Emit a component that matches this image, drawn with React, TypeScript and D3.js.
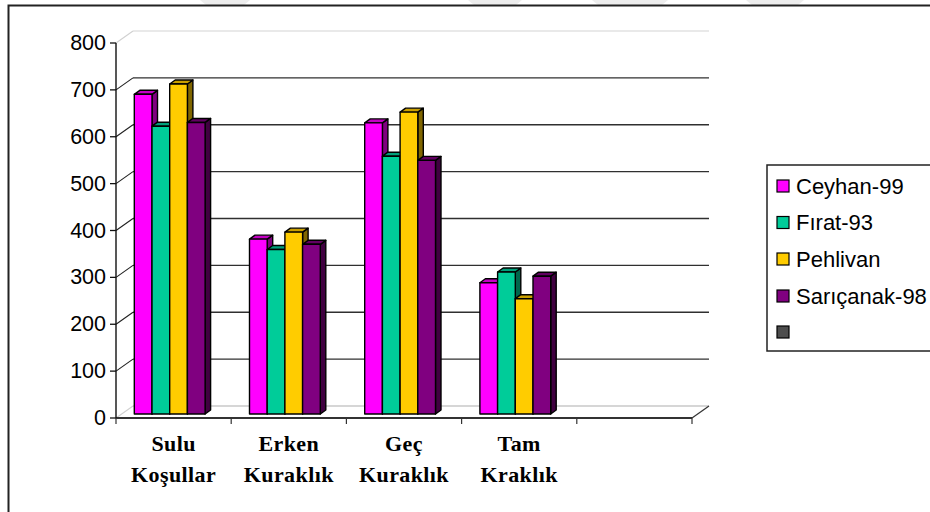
import React from "react";
import * as d3 from "d3";

const categories = ["Sulu Koşullar", "Erken Kuraklık", "Geç Kuraklık", "Tam Kraklık", ""];
const categoryLines = [["Sulu", "Koşullar"], ["Erken", "Kuraklık"], ["Geç", "Kuraklık"], ["Tam", "Kraklık"], []];
const seriesNames = ["Ceyhan-99", "Fırat-93", "Pehlivan", "Sarıçanak-98", ""];
const ceyhan = [682, 373, 621, 280];
const firat = [614, 351, 550, 303];
const pehlivan = [704, 388, 644, 246];
const saricanak = [622, 362, 541, 294];
const yTicks = [0, 100, 200, 300, 400, 500, 600, 700, 800];

const seriesValues = [ceyhan, firat, pehlivan, saricanak];
const faceColors = ["#FF00FF", "#00CC99", "#FFCC00", "#800080", "#4D4D4D"];
const topColors = ["#C400C4", "#00A07A", "#C99F00", "#620062"];
const sideColors = ["#800080", "#00664C", "#806600", "#400040"];

const W = 930;
const H = 512;
// oblique depth of the plot box and of each bar
const DX = 17;
const DY = -12;
const BDX = 5.5;
const BDY = -4;

export default function App() {
  const x = d3.scaleBand<string>().domain(categories).range([116, 692]).padding(0);
  const yFront = d3.scaleLinear().domain([0, 800]).range([418, 43]);
  const yBar = (v: number) => yFront(v) - 4;
  const barW = 17.7;
  const barOffset = 18.3;

  const bars: JSX.Element[] = [];
  categories.forEach((c, ci) => {
    seriesValues.forEach((vals, si) => {
      if (ci >= vals.length) return;
      const v = vals[ci];
      const x0 = (x(c) as number) + barOffset + si * barW;
      const x1 = x0 + barW;
      const yt = yBar(v);
      const yb = yBar(0);
      const top = `${x0},${yt} ${x0 + BDX},${yt + BDY} ${x1 + BDX},${yt + BDY} ${x1},${yt}`;
      const side = `${x1},${yt} ${x1 + BDX},${yt + BDY} ${x1 + BDX},${yb + BDY} ${x1},${yb}`;
      bars.push(
        <g key={`${ci}-${si}`} stroke="#000" strokeWidth={1.4} strokeLinejoin="round">
          <polygon points={side} fill={sideColors[si]} />
          <polygon points={top} fill={topColors[si]} />
          <rect x={x0} y={yt} width={barW} height={yb - yt} fill={faceColors[si]} />
        </g>
      );
    });
  });

  const xLeft = 116;
  const xRight = 692;
  const legendRows = [186, 222.5, 259, 296, 332];

  return (
    <svg
      width={W}
      height={H}
      style={{ position: "absolute", left: 0, top: 0, background: "#fff" }}
      fontFamily="'Liberation Sans', Arial, sans-serif"
    >
      {/* faint watermark shapes along the top edge */}
      <g fill="#EDEDED">
        <polygon points="200,0 250,0 244,5 206,5" />
        <polygon points="468,0 522,0 516,5 474,5" />
        <polygon points="592,0 668,0 662,5 598,5" />
        <polygon points="746,0 804,0 798,5 752,5" />
      </g>

      {/* outer frame */}
      <path d={`M8.5,${H + 2} V5.5 H${W + 2}`} fill="none" stroke="#222" strokeWidth={2} />

      {/* back wall gridlines */}
      {yTicks.map((t) => {
        const yy = yFront(t) + DY;
        const color = t === 0 ? "#C8C8C8" : t === 800 ? "#E2E2E2" : "#303030";
        return (
          <line key={`g${t}`} x1={xLeft + DX} x2={xRight + DX} y1={yy} y2={yy} stroke={color} strokeWidth={1.3} />
        );
      })}

      {/* left wall diagonals */}
      {yTicks.map((t) => {
        const yy = yFront(t);
        const color = t === 0 || t === 800 ? "#D0D0D0" : "#202020";
        return (
          <line key={`d${t}`} x1={xLeft} y1={yy} x2={xLeft + DX} y2={yy + DY} stroke={color} strokeWidth={1.1} />
        );
      })}

      {bars}

      {/* floor front edge and right diagonal */}
      <line x1={xLeft} x2={xRight} y1={yFront(0)} y2={yFront(0)} stroke="#333" strokeWidth={2} />
      <line x1={xRight} y1={yFront(0)} x2={xRight + DX} y2={yFront(0) + DY} stroke="#333" strokeWidth={1.2} />

      {/* category ticks */}
      {categories.map((c, i) => (
        <line key={`ct${i}`} x1={(x(c) as number)} x2={(x(c) as number)} y1={yFront(0)} y2={yFront(0) + 6} stroke="#333" strokeWidth={1.2} />
      ))}
      <line x1={xRight} x2={xRight} y1={yFront(0)} y2={yFront(0) + 6} stroke="#333" strokeWidth={1.2} />

      {/* value axis */}
      <line x1={xLeft} x2={xLeft} y1={yFront(800)} y2={yFront(0)} stroke="#111" strokeWidth={1.4} />
      {yTicks.map((t) => (
        <g key={`yt${t}`}>
          <line x1={xLeft - 6} x2={xLeft} y1={yFront(t)} y2={yFront(t)} stroke="#111" strokeWidth={1.3} />
          <text x={106} y={yFront(t)} textAnchor="end" dominantBaseline="central" fontSize={21.5} fill="#000">
            {t}
          </text>
        </g>
      ))}

      {/* category labels */}
      {categories.map((c, i) => {
        const cx = (x(c) as number) + x.bandwidth() / 2;
        return (
          <text
            key={`cl${i}`}
            x={cx}
            textAnchor="middle"
            fontFamily="'Liberation Serif', 'Times New Roman', serif"
            fontWeight="bold"
            fontSize={22}
            letterSpacing={0.4}
            fill="#000"
          >
            {categoryLines[i].map((ln, j) => (
              <tspan key={j} x={cx} y={451 + j * 31}>
                {ln}
              </tspan>
            ))}
          </text>
        );
      })}

      {/* legend */}
      <rect x={767} y={165} width={180} height={186} fill="#fff" stroke="#222" strokeWidth={1.5} />
      {seriesNames.map((n, i) => (
        <g key={`lg${i}`}>
          <rect x={777} y={legendRows[i] - 6} width={12} height={12} fill={faceColors[i]} stroke="#000" strokeWidth={1.2} />
          <text x={796} y={legendRows[i]} dominantBaseline="central" fontSize={22} fill="#000">
            {n}
          </text>
        </g>
      ))}
    </svg>
  );
}
